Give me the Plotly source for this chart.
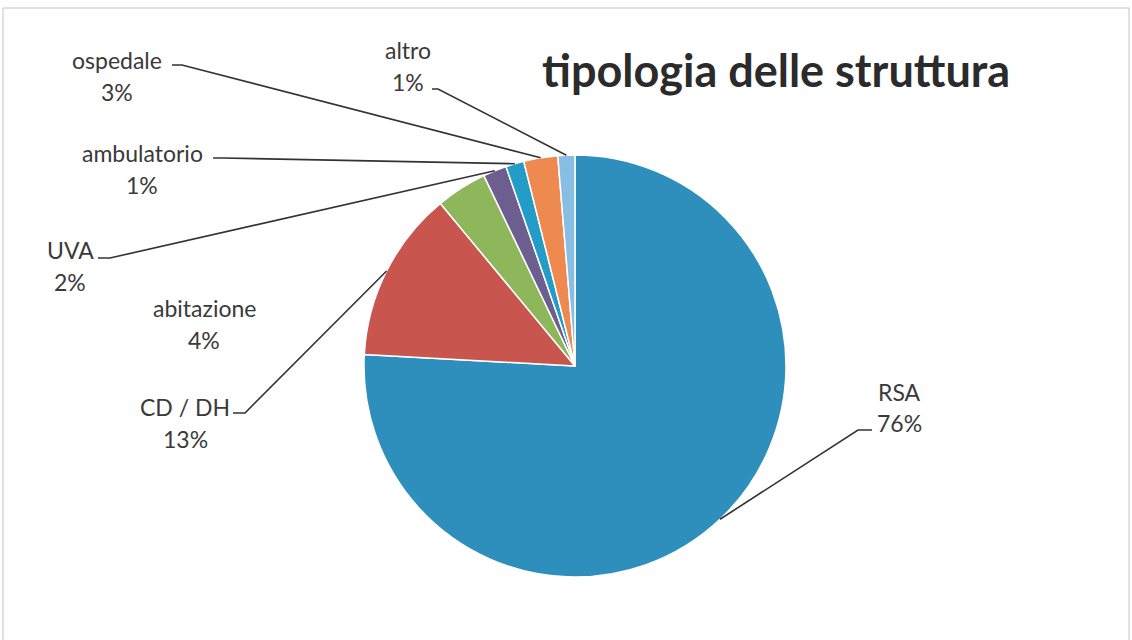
import math
import plotly.graph_objects as go

# ---- data ----
categories = ["RSA", "CD / DH", "abitazione", "UVA", "ambulatorio", "ospedale", "altro"]
values = [75.8, 13.1, 3.9, 1.8, 1.4, 2.6, 1.3]
colors = ["#2E8EBC", "#C8554E", "#8DB75A", "#6C5F90", "#239DC8", "#EE8A4F", "#88BDE4"]
title_text = "tipologia delle struttura"

# ---- layout constants (pixels) ----
W, H = 1132, 640
CX, CY, R = 575, 366, 211
# label centers: (name_x, name_y, pct_y)
label_pos = {
    "RSA": (899, 392, 423),
    "CD / DH": (185, 407, 439),
    "abitazione": (204, 308, 340),
    "UVA": (70, 250, 282),
    "ambulatorio": (142, 153, 185),
    "ospedale": (117, 60, 92),
    "altro": (408, 50, 82),
}
# leader line: start point and elbow point (None = no leader)
leaders = {
    "RSA": ((872, 430), (858, 430)),
    "CD / DH": ((233, 413), (245, 413)),
    "abitazione": None,
    "UVA": ((98, 258), (110, 258)),
    "ambulatorio": ((213, 158), (223, 158)),
    "ospedale": ((172, 65), (182, 65)),
    "altro": ((432, 89), (438, 89)),
}


def px(x):
    return x / W


def py(y):
    return 1 - y / H


fig = go.Figure(
    go.Pie(
        labels=categories,
        values=values,
        sort=False,
        direction="clockwise",
        rotation=0,
        textinfo="none",
        marker=dict(colors=colors, line=dict(color="white", width=1.5)),
        domain=dict(x=[px(CX - R), px(CX + R)], y=[py(CY + R), py(CY - R)]),
        showlegend=False,
    )
)

total = sum(values)
annotations = []
shapes = []
cum = 0.0
font = dict(family="Lato, 'Open Sans', sans-serif", size=23, color="#3a3a3a")
for cat, v in zip(categories, values):
    mid = 2 * math.pi * (cum + v / 2) / total
    cum += v
    ex = CX + R * math.sin(mid)
    ey = CY - R * math.cos(mid)
    nx, ny, pyy = label_pos[cat]
    pct = round(100 * v / total)
    annotations.append(dict(x=px(nx), y=py(ny), xref="paper", yref="paper", text=cat,
                            showarrow=False, xanchor="center", yanchor="middle", font=font))
    annotations.append(dict(x=px(nx), y=py(pyy), xref="paper", yref="paper", text=f"{pct}%",
                            showarrow=False, xanchor="center", yanchor="middle", font=font))
    ld = leaders[cat]
    if ld:
        (sx, sy), (bx, by) = ld
        path = (f"M {px(sx)} {py(sy)} L {px(bx)} {py(by)} L {px(ex)} {py(ey)}")
        shapes.append(dict(type="path", path=path, xref="paper", yref="paper",
                           line=dict(color="#333333", width=1.6)))

annotations.append(dict(x=px(776), y=py(70), xref="paper", yref="paper", text=f"<b>{title_text}</b>",
                        showarrow=False, xanchor="center", yanchor="middle",
                        font=dict(family="Lato, 'Open Sans', sans-serif", size=45, color="#2b2b2b")))

# outer chart border
shapes.append(dict(type="rect", xref="paper", yref="paper", x0=px(3), x1=px(1129), y0=py(660), y1=py(8),
                   line=dict(color="#c4c4c4", width=1)))

fig.update_layout(
    width=W, height=H,
    margin=dict(l=0, r=0, t=0, b=0),
    paper_bgcolor="white",
    plot_bgcolor="white",
    annotations=annotations,
    shapes=shapes,
)

fig.write_html("out.html", config={"displayModeBar": False})
